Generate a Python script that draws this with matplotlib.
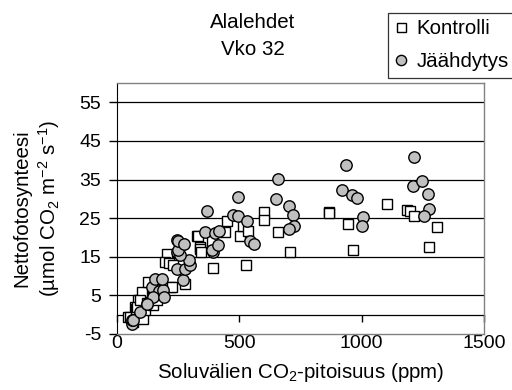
import matplotlib
matplotlib.use("Agg")
import matplotlib.pyplot as plt

plt.rcParams['font.family'] = ['Liberation Sans', 'DejaVu Sans']
plt.rcParams['mathtext.fontset'] = 'custom'
plt.rcParams['mathtext.rm'] = 'Liberation Sans'
plt.rcParams['mathtext.it'] = 'Liberation Sans:italic'
plt.rcParams['mathtext.default'] = 'regular'
plt.rcParams['axes.unicode_minus'] = False

# --- Data ---
kontrolli_x = [46, 67, 74, 87, 107, 114, 101, 135, 128, 217, 203, 196, 211, 278, 326,
               332, 339, 339, 345, 387, 394, 441, 448, 503, 516, 537, 527, 601, 601, 659,
               707, 866, 866, 945, 966, 1105, 1184, 1197, 1215, 1275, 1309, 53, 76, 80,
               94, 124, 146, 162, 223, 230]
kontrolli_y = [-0.6, -1.9, 2.0, 3.7, -1.0, 1.1, 5.9, 3.3, 8.4, 7.2, 15.8, 13.6, 13.3, 8.0, 20.5,
               20.5, 17.5, 16.9, 16.2, 19.2, 12.1, 21.4, 24.2, 20.5, 23.1, 21.8, 12.8, 26.6, 24.5, 21.4,
               16.2, 26.6, 26.3, 23.4, 16.7, 28.6, 27.2, 26.8, 25.5, 17.5, 22.7, -0.6, 1.4, 2.0,
               3.7, 3.0, 2.5, 3.7, 7.2, 12.8]

jaahdytys_x = [60, 60, 67, 94, 121, 146, 142, 173, 189, 155, 183, 146, 192, 124, 268,
               244, 244, 278, 298, 295, 257, 271, 246, 249, 251, 274, 360, 391, 387, 400,
               414, 417, 366, 475, 496, 496, 530, 544, 560, 648, 659, 702, 721, 725, 702,
               918, 936, 959, 982, 1007, 1000, 1208, 1215, 1245, 1270, 1275, 1255]
jaahdytys_y = [-2.3, -1.5, -1.5, 0.7, 2.8, 5.0, 7.2, 6.1, 6.5, 9.3, 9.3, 4.7, 4.6, 2.7, 8.9,
               11.9, 16.2, 11.9, 12.8, 14.2, 15.4, 18.2, 19.4, 16.7, 19.2, 18.2, 21.4, 16.2, 16.7, 21.1,
               18.0, 21.8, 26.8, 25.7, 30.5, 25.5, 24.2, 19.2, 18.2, 29.9, 35.2, 28.1, 25.9, 23.1, 22.3,
               32.2, 38.9, 30.9, 30.3, 25.3, 23.0, 33.3, 40.8, 34.6, 31.2, 27.5, 25.5]

y_ticks = [-5, 5, 15, 25, 35, 45, 55]
x_ticks = [0, 500, 1000, 1500]
title_lines = ['Alalehdet', 'Vko 32']

fs = 14
fs_big = 14.8

fig = plt.figure(figsize=(5.12, 3.9), dpi=100)
ax = fig.add_axes([0.2285, 0.1436, 0.7168, 0.6434])

ax.plot(kontrolli_x, kontrolli_y, 's', ms=7.2, mfc='white', mec='black', mew=1.0,
        label='Kontrolli', zorder=3)
ax.plot(jaahdytys_x, jaahdytys_y, 'o', ms=8.2, mfc='#c0c0c0', mec='black', mew=1.0,
        label='Jäähdytys', zorder=4)

ax.set_xlim(0, 1500)
ax.set_ylim(-5, 60)
ax.set_yticks(y_ticks)
ax.set_xticks(x_ticks)
ax.tick_params(axis='y', direction='out', length=5.5, width=1, color='black', labelsize=fs, pad=6)
ax.tick_params(axis='x', length=0, labelsize=fs, pad=1)

# horizontal gridlines
for yv in y_ticks[1:]:
    ax.axhline(yv, color='black', lw=0.9, zorder=1)

for side in ['top', 'right', 'bottom']:
    ax.spines[side].set_color('#808080')
    ax.spines[side].set_linewidth(1.0)
ax.spines['left'].set_color('black')

# x axis line crossing at y = 0 with tick marks
sec = ax.secondary_xaxis(5 / 65)
sec.set_xticks(x_ticks)
sec.set_xticklabels([])
sec.tick_params(direction='out', length=5, width=1, color='black')
sec.spines['bottom'].set_color('black')
sec.spines['bottom'].set_linewidth(0.9)

ax.set_xlabel('Soluvälien CO$_2$-pitoisuus (ppm)', fontsize=fs_big)
ax.xaxis.set_label_coords(0.5, -0.108)
ax.set_ylabel('Nettofotosynteesi\n(µmol CO$_2$ m$^{-2}$ s$^{-1}$)', fontsize=fs_big,
              linespacing=1.25)
ax.yaxis.set_label_coords(-0.15, 0.5)

# title, two lines
fig.text(252.5 / 512, 1 - 28.3 / 390, title_lines[0], ha='center', va='baseline', fontsize=fs_big)
fig.text(252.5 / 512, 1 - 55 / 390, title_lines[1], ha='center', va='baseline', fontsize=fs_big)

leg = ax.legend(loc='upper left', bbox_to_anchor=(388 / 512, 1 - 13.3 / 390),
                bbox_transform=fig.transFigure, fontsize=fs_big, frameon=True,
                fancybox=False, edgecolor='black', markerscale=0.9,
                handlelength=0.7, handletextpad=0.4, borderpad=0.3,
                labelspacing=0.68, borderaxespad=0)
leg.get_frame().set_linewidth(0.9)

fig.savefig('out.png', dpi=100)
